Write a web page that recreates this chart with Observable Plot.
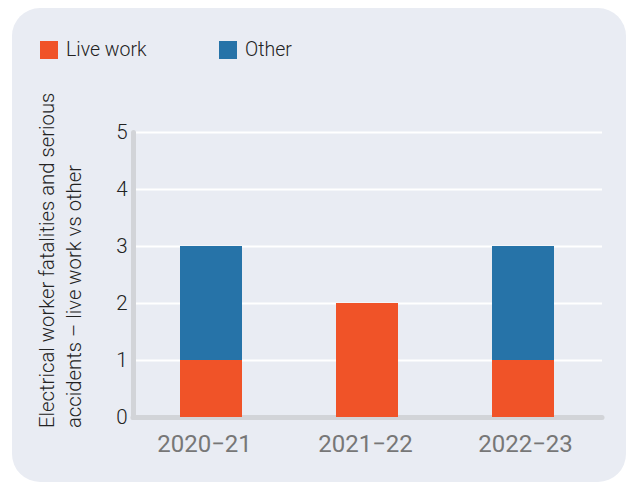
<!DOCTYPE html>
<html>
<head>
<meta charset="utf-8">
<script src="https://cdn.jsdelivr.net/npm/d3@7"></script>
<script src="https://cdn.jsdelivr.net/npm/@observablehq/plot@0.6"></script>
<style>
  html, body { margin: 0; padding: 0; background: #ffffff; }
  #wrap { position: relative; width: 627px; height: 485px; overflow: hidden; font-family: Roboto, "Noto Sans", sans-serif; }
  #card { position: absolute; left: 12px; top: 8px; width: 614px; height: 474px; border-radius: 28px; background: #e9ecf3; }
  .legend { position: absolute; top: 39px; display: flex; align-items: center; font-size: 19.5px; font-weight: 300; color: #222; line-height: 22px; }
  .sw { width: 18px; height: 18px; margin-right: 8px; }
  #ylabel { position: absolute; left: 61px; top: 428px; width: 0; height: 0; }
  #ylabel div { position: absolute; left: 0; top: 0; transform-origin: 0 0; transform: translate(-27px, 0) rotate(-90deg); white-space: nowrap; font-size: 20.3px; font-weight: 300; color: #222; line-height: 27px; text-align: left; }
  #chart { position: absolute; left: 0; top: 0; }
</style>
</head>
<body>
<div id="wrap">
  <div id="card"></div>
  <div id="legend"></div>
  <div id="ylabel"><div></div></div>
  <div id="chart"></div>
</div>
<script>
const years = ["2020–21", "2021–22", "2022–23"];
const yearLabels = ["2020−21", "2021−22", "2022−23"];
const series = ["Live work", "Other"];
const liveWork = [1, 2, 1];
const other = [2, 0, 2];
const colors = ["#f05328", "#2673a8"];
const yTicks = [0, 1, 2, 3, 4, 5];
const yLabelLines = ["Electrical worker fatalities and serious", "accidents – live work vs other"];

const data = [];
years.forEach((yr, i) => {
  data.push({year: yr, type: series[0], value: liveWork[i]});
  data.push({year: yr, type: series[1], value: other[i]});
});

// legend
const legend = document.getElementById("legend");
const legendX = [40, 219];
series.forEach((s, i) => {
  const item = document.createElement("div");
  item.className = "legend";
  item.style.left = legendX[i] + "px";
  const sw = document.createElement("div");
  sw.className = "sw";
  sw.style.background = colors[i];
  const t = document.createElement("span");
  t.textContent = s;
  item.appendChild(sw);
  item.appendChild(t);
  legend.appendChild(item);
});

// y label
const yl = document.querySelector("#ylabel div");
yl.innerHTML = yLabelLines.join("<br>");

const axisGray = "#d2d4d8";
const labelShift = [-7, -2, 2];
const chart = Plot.plot({
  width: 627,
  height: 485,
  marginLeft: 133,
  marginRight: 25,
  marginTop: 132,
  marginBottom: 68,
  style: {background: "transparent", fontFamily: "Roboto, 'Noto Sans', sans-serif"},
  x: {domain: years, paddingInner: 0.6, paddingOuter: 0.3, label: null, axis: null},
  y: {domain: [0, 5], label: null},
  color: {domain: series, range: colors},
  marks: [
    Plot.gridY(yTicks, {stroke: "#ffffff", strokeOpacity: 1, strokeWidth: 2}),
    Plot.frame({anchor: "left", stroke: axisGray, strokeWidth: 5, strokeLinecap: "round"}),
    Plot.ruleY([0], {stroke: axisGray, strokeWidth: 5, strokeLinecap: "round"}),
    Plot.barY(data, {x: "year", y: "value", fill: "type", order: series}),
    Plot.axisY(yTicks, {tickSize: 0, tickPadding: 6, fontSize: 20.5, fontWeight: 300, fill: "#222", label: null, tickFormat: d3.format("d")}),
    ...years.map((yr, i) => Plot.axisX([yr], {tickSize: 0, tickPadding: 17, fontSize: 24, fill: "#777", label: null, dx: labelShift[i],
      tickFormat: d => yearLabels[years.indexOf(d)]}))
  ]
});
document.getElementById("chart").appendChild(chart);
</script>
</body>
</html>
